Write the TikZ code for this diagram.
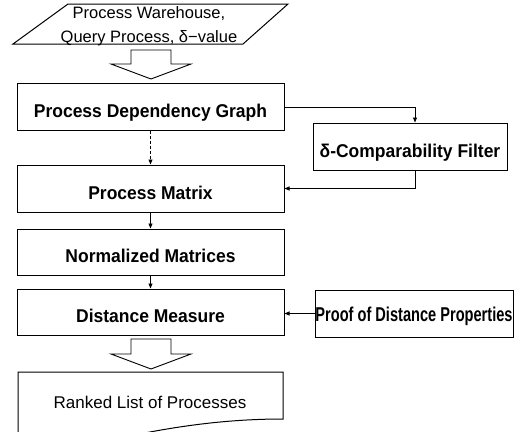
\documentclass[tikz,border=0pt]{standalone}
\usepackage{fontspec}
\usepackage{graphicx}
\setmainfont{Liberation Sans}
\usetikzlibrary{arrows.meta}
\tikzset{
  box/.style={draw, line width=1pt, minimum width=267pt, minimum height=47pt,
    inner sep=0pt, text height=21.4pt, text depth=0pt,
    font=\fontsize{18.5}{20}\selectfont\bfseries},
  conn/.style={line width=0.9pt, -{Triangle[length=5pt,width=4pt]}},
  blockarrow/.style={draw, line width=0.9pt, fill=white},
  shapeline/.style={draw, line width=1pt},
}
\newcommand{\sx}[1]{\scalebox{0.945}[1]{#1}}
\begin{document}
\begin{tikzpicture}[x=1pt,y=-1pt]
\useasboundingbox (0,0) rectangle (522,431);
\clip (0,0) rectangle (522,431);
% input parallelogram
\draw[shapeline] (68,4) -- (288,4) -- (243,44) -- (13,44) -- cycle;
\node[anchor=base, align=center, inner sep=0pt, font=\fontsize{16.5}{24.4}\selectfont]
  (input) at (149,42.7) {Process Warehouse,\\Query Process, δ−value};
% block arrow 1
\draw[blockarrow] (131,50) -- (171,50) -- (171,64) -- (191,64) -- (151,79) -- (111,64) -- (131,64) -- cycle;
% boxes
\node[box] (pdg) at (150.5,106.5) {\sx{Process Dependency Graph}};
\node[box, minimum width=194pt] (filt) at (410,146.5) {\sx{δ-Comparability Filter}};
\node[box] (pm) at (150.5,188.5) {\sx{Process Matrix}};
\node[box, minimum height=46pt] (nm) at (150.5,252) {\sx{Normalized Matrices}};
\node[box, minimum height=46pt] (dm) at (150.5,312) {\sx{Distance Measure}};
\node[box, minimum width=198pt, text height=16pt, font=\fontsize{20}{22}\selectfont\bfseries]
  (proof) at (414,313.5) {\scalebox{0.73}[1]{Proof of Distance Properties}};
% connectors
\coordinate (fx) at (415,0);
\draw[conn] ([yshift=-0.5pt]pdg.east) -| (fx |- filt.north);
\draw[conn] (fx |- filt.south) |- (pm.east);
\draw[conn, dashed, dash pattern=on 3pt off 2pt] (pdg.south) -- (pm.north);
\draw[conn] (pm.south) -- (nm.north);
\draw[conn] (nm.south) -- (dm.north);
\draw[conn] (proof.west) -- (proof.west -| dm.east);
% block arrow 2
\draw[blockarrow] (131,339) -- (171,339) -- (171,354) -- (191,354) -- (151,369) -- (111,354) -- (131,354) -- cycle;
% ranked list document
\draw[shapeline] (18,460) -- (18,372) -- (283,372) -- (283,419)
  .. controls (220,419) and (160,428) .. (90,445) -- (18,460);
\node[anchor=base, inner sep=0pt, font=\fontsize{17}{20}\selectfont]
  (rank) at (150,408.3) {Ranked List of Processes};
\end{tikzpicture}
\end{document}
